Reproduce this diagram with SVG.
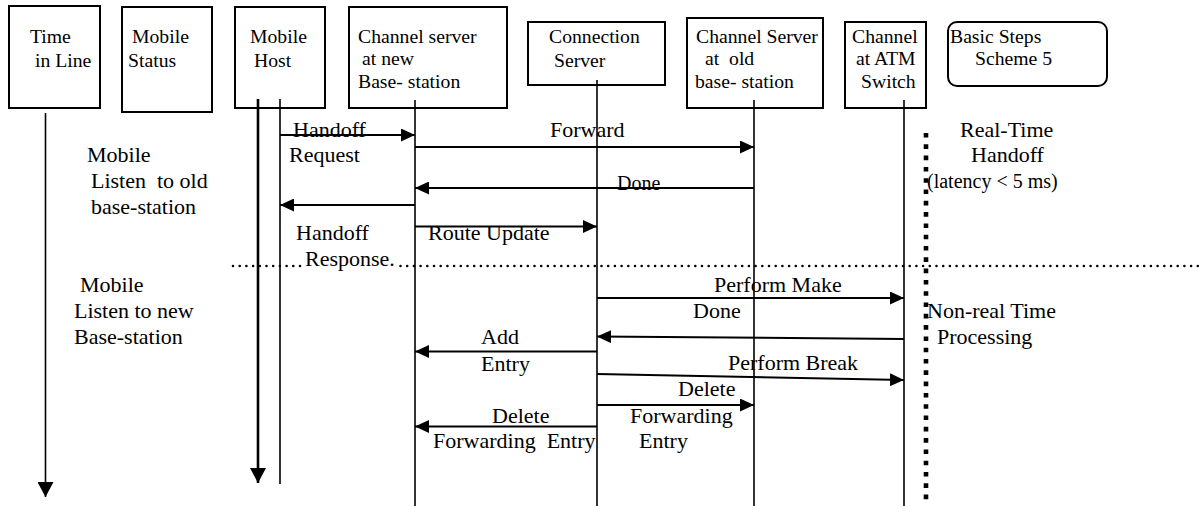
<svg xmlns="http://www.w3.org/2000/svg" width="1199" height="506" viewBox="0 0 1199 506">
<style>
text{font-family:"Liberation Serif","Times New Roman",serif;font-size:22px;fill:#000;white-space:pre}
.hd{font-size:19.7px}
.sm{font-size:20px}
.box{fill:#fff;stroke:#000;stroke-width:2}
.life{stroke:#000;stroke-width:1.6;fill:none}
.msg{stroke:#000;stroke-width:2;fill:none;marker-end:url(#ah)}
</style>
<defs>
<marker id="ah" markerUnits="userSpaceOnUse" markerWidth="14" markerHeight="13" refX="14" refY="6.5" orient="auto"><path d="M0,0 L14,6.5 L0,13 z" fill="#000"/></marker>
<marker id="ahBig" markerUnits="userSpaceOnUse" markerWidth="15" markerHeight="16" refX="15" refY="8" orient="auto"><path d="M0,0 L15,8 L0,16 z" fill="#000"/></marker>
</defs>
<rect width="1199" height="506" fill="#fff"/>

<g id="time-in-line">
<rect class="box" x="9" y="6" width="91" height="102"/>
<text class="hd" x="30" y="43">Time</text>
<text class="hd" x="35" y="67">in Line</text>
</g>
<g id="mobile-status">
<rect class="box" x="122" y="7" width="90" height="105"/>
<text class="hd" x="132" y="43">Mobile</text>
<text class="hd" x="128" y="67">Status</text>
</g>
<g id="mobile-host">
<rect class="box" x="235" y="7" width="90" height="101"/>
<text class="hd" x="250" y="43">Mobile</text>
<text class="hd" x="254" y="67">Host</text>
</g>
<g id="channel-new">
<rect class="box" x="349" y="7" width="158" height="101"/>
<text class="hd" x="358" y="43">Channel server</text>
<text class="hd" x="362" y="65">at new</text>
<text class="hd" x="358" y="88">Base- station</text>
</g>
<g id="connection-server">
<rect class="box" x="528" y="22" width="137" height="63"/>
<text class="hd" x="549" y="43">Connection</text>
<text class="hd" x="554" y="67">Server</text>
</g>
<g id="channel-old">
<rect class="box" x="687" y="18" width="136" height="90"/>
<text class="hd" x="696" y="43">Channel Server</text>
<text class="hd" x="705" y="65" xml:space="preserve">at  old</text>
<text class="hd" x="695" y="88">base- station</text>
</g>
<g id="channel-atm">
<rect class="box" x="845" y="22" width="81" height="86"/>
<text class="hd" x="852" y="43">Channel</text>
<text class="hd" x="856" y="65">at ATM</text>
<text class="hd" x="861" y="88">Switch</text>
</g>
<g id="basic-steps">
<rect class="box" x="948" y="22" width="159" height="64" rx="9"/>
<text class="hd" x="950" y="43">Basic Steps</text>
<text class="hd" x="975" y="65">Scheme 5</text>
</g>

<g id="lifelines">
<line class="life" x1="45.5" y1="113" x2="45.5" y2="497" style="marker-end:url(#ahBig)"/>
<line x1="258" y1="99" x2="258" y2="483" stroke="#000" stroke-width="2.6" style="marker-end:url(#ahBig)"/>
<line class="life" x1="280" y1="99" x2="280" y2="484"/>
<line class="life" x1="415" y1="100" x2="415" y2="506"/>
<line class="life" x1="597" y1="80" x2="597" y2="506"/>
<line class="life" x1="754" y1="100" x2="754" y2="506"/>
<line class="life" x1="904" y1="100" x2="904" y2="506"/>
</g>

<g id="separators">
<line x1="926" y1="133" x2="926" y2="506" stroke="#000" stroke-width="4.6" stroke-dasharray="4.6 6.7"/>
<line x1="233" y1="266" x2="1199" y2="266" stroke="#000" stroke-width="2.6" stroke-linecap="round" stroke-dasharray="0 6.7"/>
</g>

<g id="connectors">
<line class="msg" x1="280" y1="135" x2="415" y2="135"/>
<line class="msg" x1="415" y1="147" x2="754" y2="147"/>
<line class="msg" x1="754" y1="188" x2="415" y2="188"/>
<line class="msg" x1="415" y1="205" x2="280" y2="205"/>
<line class="msg" x1="415" y1="226.5" x2="597" y2="226.5"/>
<line class="msg" x1="597" y1="298" x2="904" y2="298"/>
<line class="msg" x1="904" y1="339" x2="597" y2="336.5"/>
<line class="msg" x1="597" y1="351.5" x2="415" y2="351.5"/>
<line class="msg" x1="597" y1="374" x2="904" y2="380"/>
<line class="msg" x1="597" y1="405" x2="754" y2="405"/>
<line class="msg" x1="597" y1="426.5" x2="415" y2="426.5"/>
</g>

<g id="labels">
<text x="293" y="137">Handoff</text>
<text x="289" y="162">Request</text>
<text x="550" y="137">Forward</text>
<text class="sm" x="617" y="190">Done</text>
<text x="296" y="240">Handoff</text>
<rect x="304" y="251" width="91" height="19" fill="#fff"/>
<text x="305" y="266">Response.</text>
<text x="428" y="240">Route Update</text>
<text x="714" y="292">Perform Make</text>
<text x="693" y="318">Done</text>
<text x="481" y="344">Add</text>
<text x="481" y="371">Entry</text>
<text x="728" y="370">Perform Break</text>
<text x="678" y="396">Delete</text>
<text x="630" y="423">Forwarding</text>
<text x="639" y="448">Entry</text>
<text x="492" y="423">Delete</text>
<text x="433" y="448" xml:space="preserve">Forwarding  Entry</text>

<text x="87" y="162">Mobile</text>
<text x="91" y="188" xml:space="preserve">Listen  to old</text>
<text x="91" y="214">base-station</text>
<text x="80" y="292">Mobile</text>
<text x="74" y="318">Listen to new</text>
<text x="74" y="344">Base-station</text>

<text x="960" y="137">Real-Time</text>
<text x="971" y="162">Handoff</text>
<text class="sm" x="927" y="188">(latency &lt; 5 ms)</text>
<text x="927" y="318">Non-real Time</text>
<text x="937" y="344">Processing</text>
</g>
</svg>
